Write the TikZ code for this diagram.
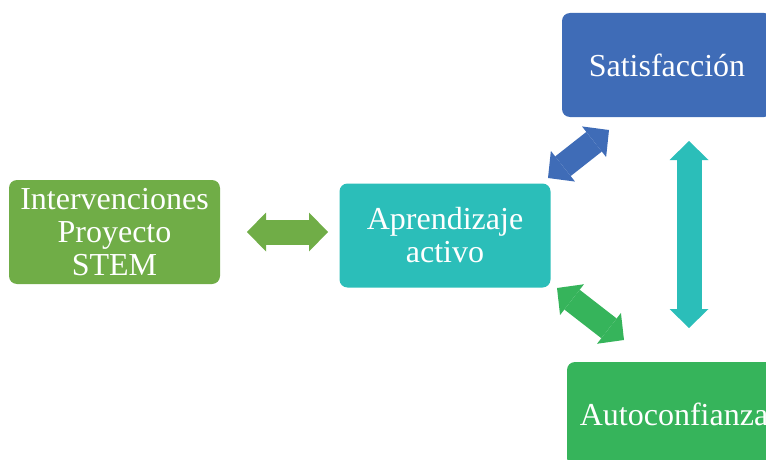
\documentclass[tikz,border=0pt]{standalone}
\usepackage{fontspec}
\setmainfont{Liberation Serif}
\usetikzlibrary{arrows.meta}
\usetikzlibrary{positioning}
\definecolor{LeafGreen}{RGB}{112,173,71}
\definecolor{SeaTeal}{RGB}{43,190,185}
\definecolor{SteelBlue}{RGB}{63,108,183}
\definecolor{MintGreen}{RGB}{54,180,91}

\begin{document}
\begin{tikzpicture}[x=1pt,y=-1pt,
		box/.style={rectangle, rounded corners=8pt, minimum width=211pt, minimum height=104pt,
			inner sep=0pt, text=white, align=center, font=\fontsize{32}{33}\selectfont},
		link/.style={line width=25pt, >={Triangle[width=39pt,length=19pt,line width=0pt]}, <->}]
		\useasboundingbox (0,0) rectangle (766,460);
		
		\node [box, fill=LeafGreen] (interv) at (114.5,232) {Intervenciones\\Proyecto\\STEM};
		\node [box, fill=SeaTeal] (aprend) at (445,235.5) {Aprendizaje\\activo};
		\node [box, fill=SteelBlue, minimum width=210pt] (satisf) at (667,65) {Satisfacción};
		\node [box, fill=MintGreen, minimum width=214pt] (autoc) at (674,414) {Autoconfianza};
		
		% ends of the block arrows
		\coordinate (i-a) at (247,232);   \coordinate (a-i) at (328,232);
		\coordinate (a-s) at (548,178);   \coordinate (s-a) at (609,130);
		\coordinate (s-c) at (689,141);   \coordinate (c-s) at (689,328);
		\coordinate (a-c) at (557,288);   \coordinate (c-a) at (624,340);
		
		\draw [link, LeafGreen] (i-a) -- (a-i);
		\draw [link, SteelBlue] (a-s) -- (s-a);
		\draw [link, SeaTeal] (s-c) -- (c-s);
		\draw [link, MintGreen] (a-c) -- (c-a);
	\end{tikzpicture}
\end{document}
